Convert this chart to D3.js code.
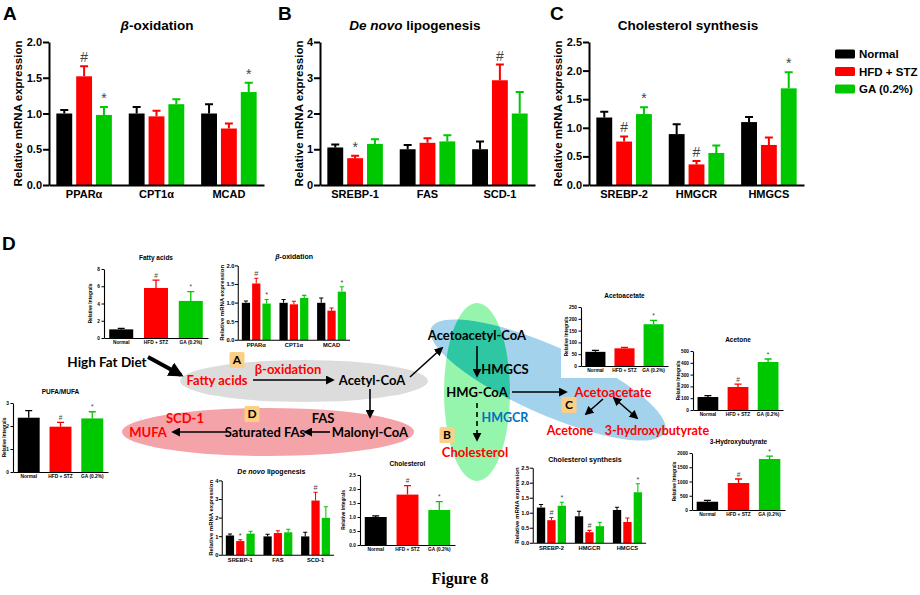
<!DOCTYPE html>
<html>
<head>
<meta charset="utf-8">
<script src="https://cdn.jsdelivr.net/npm/d3@7"></script>
<style>
  body { margin: 0; background: #fff; }
  svg { font-family: Arial, "Liberation Sans", sans-serif; }
</style>
</head>
<body>
<svg id="fig" width="920" height="595"></svg>
<script>
// treatment groups
const groups = ["Normal", "HFD + STZ", "GA (0.2%)"];
const groupColors = ["#000000", "#ff0000", "#00c800"];

// A: beta-oxidation (mRNA)
const betaGenes = ["PPARα", "CPT1α", "MCAD"];
const betaMean = [[1.00, 1.52, 0.98], [1.00, 0.96, 1.13], [1.00, 0.79, 1.30]];
const betaErr = [[0.05, 0.14, 0.11], [0.09, 0.08, 0.07], [0.13, 0.07, 0.13]];
const betaMarks = [["", "#", "*"], ["", "", ""], ["", "", "*"]];
const betaTicks = [0, 0.5, 1.0, 1.5, 2.0];

// B: de novo lipogenesis (mRNA)
const lipoGenes = ["SREBP-1", "FAS", "SCD-1"];
const lipoMean = [[1.05, 0.75, 1.15], [1.00, 1.18, 1.22], [1.00, 2.93, 2.00]];
const lipoErr = [[0.08, 0.07, 0.13], [0.12, 0.13, 0.17], [0.22, 0.44, 0.60]];
const lipoMarks = [["", "*", ""], ["", "", ""], ["", "#", ""]];
const lipoTicks = [0, 1, 2, 3, 4];

// C: cholesterol synthesis (mRNA)
const cholGenes = ["SREBP-2", "HMGCR", "HMGCS"];
const cholMean = [[1.18, 0.76, 1.24], [0.89, 0.36, 0.56], [1.10, 0.70, 1.69]];
const cholErr = [[0.10, 0.09, 0.12], [0.17, 0.06, 0.13], [0.09, 0.13, 0.28]];
const cholMarks = [["", "#", "*"], ["", "#", ""], ["", "", "*"]];
const cholTicks = [0, 0.5, 1.0, 1.5, 2.0, 2.5];

// D: metabolite integrals
const fattyMean = [1.0, 5.8, 4.3];
const fattyErr = [0.12, 0.9, 1.08];
const fattyMarks = ["", "#", "*"];
const fattyTicks = [0, 2, 4, 6, 8];

const pufaMean = [2.36, 1.97, 2.33];
const pufaErr = [0.31, 0.19, 0.29];
const pufaMarks = ["", "#", "*"];
const pufaTicks = [0, 1, 2, 3];

const cholIntMean = [1.0, 1.8, 1.25];
const cholIntErr = [0.04, 0.32, 0.3];
const cholIntMarks = ["", "#", "*"];
const cholIntTicks = [0, 0.5, 1.0, 1.5, 2.0, 2.5];

const acacMean = [60, 75, 177];
const acacErr = [6, 4, 16];
const acacMarks = ["", "", "*"];
const acacTicks = [0, 50, 100, 150, 200, 250];

const acetoneMean = [110, 195, 407];
const acetoneErr = [12, 25, 25];
const acetoneMarks = ["", "#", "*"];
const acetoneTicks = [0, 100, 200, 300, 400, 500];

const hbMean = [290, 947, 1790];
const hbErr = [50, 140, 100];
const hbMarks = ["", "#", "*"];
const hbTicks = [0, 500, 1000, 1500, 2000];

const svg = d3.select("#fig");

// arrow heads
const defs = svg.append("defs");
function marker(id, size) {
  defs.append("marker")
    .attr("id", id)
    .attr("viewBox", "0 0 10 10")
    .attr("refX", 8).attr("refY", 5)
    .attr("markerWidth", size).attr("markerHeight", size)
    .attr("markerUnits", "userSpaceOnUse")
    .attr("orient", "auto-start-reverse")
    .append("path").attr("d", "M0,0L10,5L0,10z").attr("fill", "#000");
}
marker("arr", 9);
marker("bigArr", 15);

// grouped mRNA chart, drawn in local coords (0,0 = top of y axis)
function geneChart(g, o) {
  const h = 143, w = 215;
  const y = d3.scaleLinear().domain([0, d3.max(o.ticks)]).range([h, 0]);
  const x0 = d3.scaleBand().domain(o.genes).range([0, w]).paddingInner(0.2).paddingOuter(0.085);
  const x1 = d3.scaleBand().domain(d3.range(groups.length)).range([0, x0.bandwidth()])
    .paddingInner(0.2).paddingOuter(0.06);
  const rows = o.genes.flatMap((gene, i) => groups.map((grp, j) =>
    ({ gene, j, m: o.mean[i][j], e: o.err[i][j], mark: o.marks[i][j] })));
  const cx = d => x0(d.gene) + x1(d.j) + x1.bandwidth() / 2;

  g.selectAll(".bar").data(rows).join("rect")
    .attr("x", d => x0(d.gene) + x1(d.j))
    .attr("y", d => y(d.m))
    .attr("width", x1.bandwidth())
    .attr("height", d => h - y(d.m))
    .attr("fill", d => groupColors[d.j]);

  g.selectAll(".err").data(rows).join("path")
    .attr("d", d => `M${cx(d)},${y(d.m)}V${y(d.m + d.e)}M${cx(d) - 4},${y(d.m + d.e)}H${cx(d) + 4}`)
    .attr("stroke", d => groupColors[d.j])
    .attr("stroke-width", 2)
    .attr("fill", "none");

  g.selectAll(".mark").data(rows.filter(d => d.mark)).join("text")
    .attr("x", cx)
    .attr("y", d => y(d.m + d.e) - 4)
    .attr("text-anchor", "middle")
    .attr("font-size", 14)
    .attr("fill", "#444")
    .text(d => d.mark);

  const ya = g.append("g")
    .call(d3.axisLeft(y).tickValues(o.ticks).tickFormat(o.fmt).tickSize(6).tickSizeOuter(0).tickPadding(1));
  ya.attr("font-family", null);
  ya.select(".domain").attr("stroke-width", 2);
  ya.selectAll(".tick line").attr("stroke-width", 2);
  ya.selectAll(".tick text").attr("font-size", 11).attr("font-weight", "bold");

  const xa = g.append("g").attr("transform", `translate(0,${h})`)
    .call(d3.axisBottom(x0).tickSize(0).tickSizeOuter(0).tickPadding(5));
  xa.attr("font-family", null);
  xa.select(".domain").attr("stroke-width", 2);
  xa.selectAll(".tick text").attr("font-size", 11).attr("font-weight", "bold");

  const t = g.append("text")
    .attr("x", o.titleX).attr("y", -12)
    .attr("text-anchor", "middle")
    .attr("font-size", 13.5);
  o.title.forEach(([s, weight, style]) => t.append("tspan")
    .attr("font-weight", weight).attr("font-style", style).text(s));

  g.append("text")
    .attr("transform", `translate(${o.labelX},${h / 2}) rotate(-90)`)
    .attr("text-anchor", "middle")
    .attr("dy", "0.35em")
    .attr("font-size", 11.5)
    .attr("font-weight", "bold")
    .text("Relative mRNA expression");
}

const betaOpts = { genes: betaGenes, mean: betaMean, err: betaErr, marks: betaMarks, ticks: betaTicks,
  fmt: d3.format(".1f"), title: [["β", "bold", "italic"], ["-oxidation", "bold", "normal"]], titleX: 108, labelX: -31 };
const lipoOpts = { genes: lipoGenes, mean: lipoMean, err: lipoErr, marks: lipoMarks, ticks: lipoTicks,
  fmt: d3.format("d"), title: [["De novo", "bold", "italic"], [" lipogenesis", "bold", "normal"]], titleX: 95, labelX: -21 };
const cholOpts = { genes: cholGenes, mean: cholMean, err: cholErr, marks: cholMarks, ticks: cholTicks,
  fmt: d3.format(".1f"), title: [["Cholesterol synthesis", "bold", "normal"]], titleX: 99, labelX: -31 };

// ---- diagram backgrounds ----
svg.append("ellipse").attr("cx", 304).attr("cy", 381).attr("rx", 124).attr("ry", 21).attr("fill", "#dcdcdc");
svg.append("ellipse").attr("cx", 268).attr("cy", 432).attr("rx", 146).attr("ry", 24).attr("fill", "#f4a3a9");
const blueT = "translate(548,380) rotate(24)";
defs.append("clipPath").attr("id", "blueClip")
  .append("ellipse").attr("rx", 128).attr("ry", 34).attr("transform", blueT);
svg.append("ellipse").attr("rx", 128).attr("ry", 34).attr("transform", blueT).attr("fill", "#a3d2ec");
svg.append("ellipse").attr("cx", 477).attr("cy", 392).attr("rx", 33).attr("ry", 89).attr("fill", "#95f5ad");
svg.append("ellipse").attr("cx", 477).attr("cy", 392).attr("rx", 33).attr("ry", 89)
  .attr("fill", "#2fc6a3").attr("clip-path", "url(#blueClip)");

// ---- panels A, B, C ----
geneChart(svg.append("g").attr("transform", "translate(49,42)"), betaOpts);
geneChart(svg.append("g").attr("transform", "translate(320,42)"), lipoOpts);
geneChart(svg.append("g").attr("transform", "translate(589,42)"), cholOpts);

// mini copies inside D
const k = 0.52;
geneChart(svg.append("g").attr("transform", `translate(238,${340 - 143 * k}) scale(${k})`), betaOpts);
geneChart(svg.append("g").attr("transform", `translate(222,${555 - 143 * k}) scale(${k})`), lipoOpts);
geneChart(svg.append("g").attr("transform", `translate(533,${543 - 143 * 0.525}) scale(0.525)`), cholOpts);

// panel letters
[["A", 3, 20], ["B", 278, 20], ["C", 550, 20], ["D", 2, 250]].forEach(([s, x, y]) =>
  svg.append("text").attr("x", x).attr("y", y).attr("font-size", 19).attr("font-weight", "bold").text(s));

// legend
const leg = svg.append("g").attr("transform", "translate(835,54)");
groups.forEach((grp, i) => {
  leg.append("rect").attr("x", 0).attr("y", i * 17.5 - 4.5).attr("width", 20).attr("height", 9)
    .attr("rx", 1.5).attr("fill", groupColors[i]);
  leg.append("text").attr("x", 24).attr("y", i * 17.5).attr("dy", "0.35em")
    .attr("font-size", 11.5).attr("font-weight", "bold").text(grp);
});

// small integral charts
function integralChart(o) {
  const g = svg.append("g").attr("transform", `translate(${o.x},${o.y})`);
  if (o.bg) g.append("rect").attr("x", -20).attr("y", -17).attr("width", o.w + 25).attr("height", o.h + 29).attr("fill", "#fff");
  const y = d3.scaleLinear().domain([0, d3.max(o.ticks)]).range([o.h, 0]);
  const x = d3.scaleBand().domain(groups).range([0, o.w]).paddingInner(0.31).paddingOuter(0.15);
  const rows = groups.map((grp, j) => ({ grp, j, m: o.mean[j], e: o.err[j], mark: o.marks[j] }));
  const cx = d => x(d.grp) + x.bandwidth() / 2;

  g.selectAll(".bar").data(rows).join("rect")
    .attr("x", d => x(d.grp)).attr("y", d => y(d.m))
    .attr("width", x.bandwidth()).attr("height", d => o.h - y(d.m))
    .attr("fill", d => groupColors[d.j]);
  g.selectAll(".err").data(rows).join("path")
    .attr("d", d => `M${cx(d)},${y(d.m)}V${y(d.m + d.e)}M${cx(d) - 3.5},${y(d.m + d.e)}H${cx(d) + 3.5}`)
    .attr("stroke", d => groupColors[d.j]).attr("stroke-width", 1.3).attr("fill", "none");
  g.selectAll(".mark").data(rows.filter(d => d.mark)).join("text")
    .attr("x", cx).attr("y", d => y(d.m + d.e) - 2.5)
    .attr("text-anchor", "middle").attr("font-size", 6.5).attr("fill", "#444")
    .text(d => d.mark);

  const ya = g.append("g")
    .call(d3.axisLeft(y).tickValues(o.ticks).tickFormat(o.fmt || d3.format("d")).tickSize(2.5).tickSizeOuter(0).tickPadding(1.5));
  ya.attr("font-family", null);
  ya.select(".domain").attr("stroke-width", 1.1);
  ya.selectAll(".tick text").attr("font-size", 4.8).attr("font-weight", "bold");
  const xa = g.append("g").attr("transform", `translate(0,${o.h})`)
    .call(d3.axisBottom(x).tickSize(0).tickSizeOuter(0).tickPadding(3));
  xa.attr("font-family", null);
  xa.select(".domain").attr("stroke-width", 1.1);
  xa.selectAll(".tick text").attr("font-size", 4.8).attr("font-weight", "bold");

  g.append("text").attr("x", o.w / 2).attr("y", -9).attr("text-anchor", "middle")
    .attr("font-size", 6.5).attr("font-weight", "bold").text(o.title);
  g.append("text").attr("transform", `translate(${o.labelX || -15},${o.h / 2}) rotate(-90)`)
    .attr("text-anchor", "middle").attr("dy", "0.35em")
    .attr("font-size", 4.8).attr("font-weight", "bold").text("Relative Integrals");
}

integralChart({ x: 104, y: 269, w: 104, h: 69, mean: fattyMean, err: fattyErr, marks: fattyMarks, ticks: fattyTicks, title: "Fatty acids", labelX: -14 });
integralChart({ x: 13, y: 403, w: 95, h: 69, mean: pufaMean, err: pufaErr, marks: pufaMarks, ticks: pufaTicks, title: "PUFA/MUFA", labelX: -9 });
integralChart({ x: 360, y: 475, w: 95, h: 70, mean: cholIntMean, err: cholIntErr, marks: cholIntMarks, ticks: cholIntTicks, fmt: d3.format(".1f"), title: "Cholesterol", labelX: -17 });
integralChart({ x: 581, y: 307, w: 87, h: 59, mean: acacMean, err: acacErr, marks: acacMarks, ticks: acacTicks, title: "Acetoacetate", bg: true });
integralChart({ x: 693, y: 351, w: 90, h: 59, mean: acetoneMean, err: acetoneErr, marks: acetoneMarks, ticks: acetoneTicks, title: "Acetone" });
integralChart({ x: 692, y: 453, w: 93, h: 57, mean: hbMean, err: hbErr, marks: hbMarks, ticks: hbTicks, title: "3-Hydroxybutyrate", labelX: -18 });

// ---- pathway diagram ----
const dg = svg.append("g").attr("font-family", "Lato, 'Open Sans', sans-serif").attr("font-weight", "bold");
const arrows = [
  { d: "M148,357L181,375", big: true },
  { d: "M253,380L333,380" },
  { d: "M370,389L370,417" },
  { d: "M410,377L442,348" },
  { d: "M330,432L305,432" },
  { d: "M227,432L173,432" },
  { d: "M477,346L477,376" },
  { d: "M512,392L566,392" },
  { d: "M603,399L586,414" },
  { d: "M614,398L637,418", both: true },
  { d: "M477,403L477,440", dash: true }
];
arrows.forEach(a => {
  const p = dg.append("path").attr("d", a.d).attr("fill", "none").attr("stroke", "#000")
    .attr("stroke-width", a.big ? 4 : 1.6)
    .attr("marker-end", a.big ? "url(#bigArr)" : "url(#arr)");
  if (a.both) p.attr("marker-start", "url(#arr)");
  if (a.dash) p.attr("stroke-dasharray", "5,4");
});

const boxes = [["A", 237, 360], ["D", 252, 414], ["C", 569, 405], ["B", 447, 435]];
boxes.forEach(([s, x, y]) => {
  dg.append("rect").attr("x", x - 7.5).attr("y", y - 8).attr("width", 15).attr("height", 16)
    .attr("rx", 1.5).attr("fill", "#fbcf84");
  dg.append("text").attr("x", x).attr("y", y).attr("dy", "0.36em").attr("text-anchor", "middle")
    .attr("font-size", 12).text(s);
});

const labels = [
  ["High Fat Diet", 107, 362, "#000", 13.5],
  ["Fatty acids", 217, 380, "#ff0000", 13],
  ["β-oxidation", 288, 369, "#ff0000", 13],
  ["Acetyl-CoA", 372, 380, "#000", 13],
  ["SCD-1", 185, 418, "#ff0000", 13],
  ["FAS", 323, 418, "#000", 13],
  ["MUFA", 148, 432, "#ff0000", 13],
  ["Saturated FAs", 265, 432, "#000", 13],
  ["Malonyl-CoA", 370, 432, "#000", 13],
  ["Acetoacetyl-CoA", 477, 335, "#000", 13],
  ["HMGCS", 505, 369, "#000", 13],
  ["HMG-CoA", 477, 392, "#000", 13],
  ["Acetoacetate", 613, 392, "#ff0000", 13],
  ["Acetone", 570, 430, "#ff0000", 12.5],
  ["3-hydroxybutyrate", 657, 430, "#ff0000", 12.5],
  ["HMGCR", 505, 417, "#0070c0", 12.5],
  ["Cholesterol", 475, 452, "#ff0000", 13]
];
labels.forEach(([s, x, y, c, fs]) => dg.append("text")
  .attr("x", x).attr("y", y).attr("dy", "0.36em").attr("text-anchor", "middle")
  .attr("font-size", fs).attr("fill", c).text(s));

svg.append("text").attr("x", 460).attr("y", 584).attr("text-anchor", "middle")
  .attr("font-family", "'Liberation Serif', 'Times New Roman', serif")
  .attr("font-weight", "bold").attr("font-size", 16).text("Figure 8");
</script>
</body>
</html>
